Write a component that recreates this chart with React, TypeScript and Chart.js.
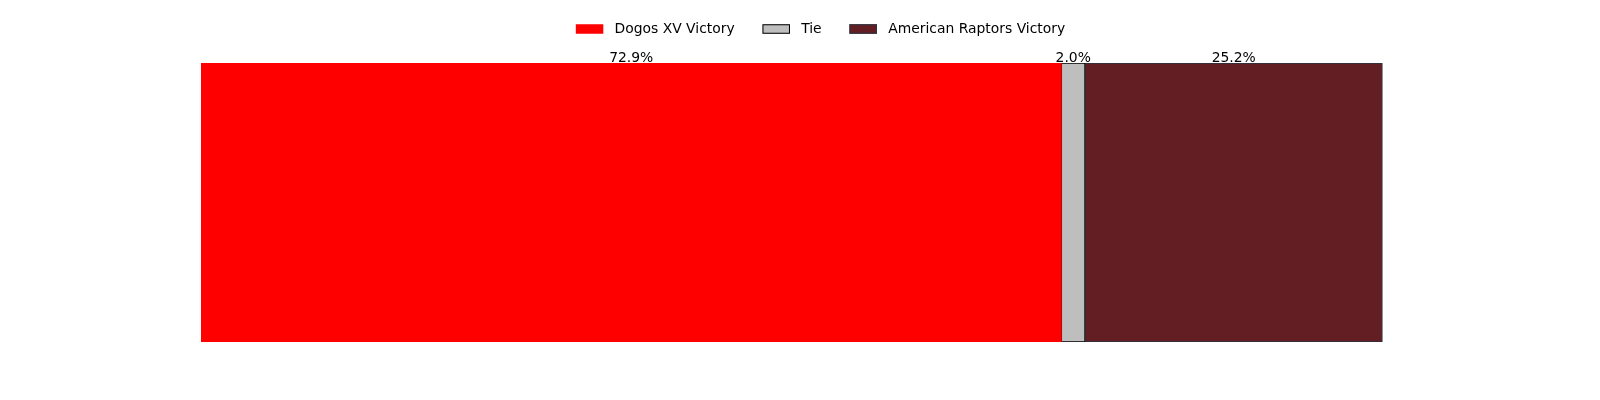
import React, { useEffect, useRef } from "react";
import { Chart, registerables } from "chart.js";

Chart.register(...registerables);

const categories = ["Result"];
const seriesLabels = ["Dogos XV Victory", "Tie", "American Raptors Victory"];
const seriesValues = [72.9, 2.0, 25.2];
const seriesColors = ["#FF0000", "#BEBEBE", "#621E22"];
const seriesBorders = ["#FF0000", "#000000", "#2B3444"];
const seriesBorderWidths = [0, 1, 1];
const valueLabels = ["72.9%", "2.0%", "25.2%"];

const FONT = "13.9px 'DejaVu Sans', sans-serif";

const labelPlugin = {
  id: "segLabels",
  afterDatasetsDraw(chart: any) {
    const ctx = chart.ctx;
    ctx.save();
    ctx.font = FONT;
    ctx.fillStyle = "#000";
    ctx.textAlign = "center";
    ctx.textBaseline = "bottom";
    chart.data.datasets.forEach((ds: any, i: number) => {
      const meta = chart.getDatasetMeta(i);
      const el: any = meta.data[0];
      if (!el) return;
      const cx = (el.x + el.base) / 2;
      const top = el.y - el.height / 2;
      ctx.fillText(valueLabels[i], cx, top + 2.5);
    });
    ctx.restore();
  },
};

const legendPlugin = {
  id: "customLegend",
  afterDraw(chart: any) {
    const ctx = chart.ctx;
    ctx.save();
    ctx.font = FONT;
    const boxW = 27.5;
    const boxH = 9.5;
    const textGap = 11.2;
    const colGap = 27.8;
    const widths = seriesLabels.map((l) => boxW + textGap + ctx.measureText(l).width);
    const total = widths.reduce((a, b) => a + b, 0) + colGap * (widths.length - 1);
    const centerX = 820.5;
    let x = centerX - total / 2;
    const cy = 29;
    seriesLabels.forEach((l, i) => {
      ctx.fillStyle = seriesColors[i];
      ctx.fillRect(x, cy - boxH / 2, boxW, boxH);
      if (seriesBorderWidths[i] > 0) {
        ctx.strokeStyle = seriesBorders[i];
        ctx.lineWidth = 1;
        ctx.strokeRect(x + 0.5, cy - boxH / 2 + 0.5, boxW - 1, boxH - 1);
      }
      ctx.fillStyle = "#000";
      ctx.textAlign = "left";
      ctx.textBaseline = "middle";
      ctx.fillText(l, x + boxW + textGap, cy + 0.5);
      x += widths[i] + colGap;
    });
    ctx.restore();
  },
};

export default function App() {
  const ref = useRef<HTMLCanvasElement | null>(null);
  useEffect(() => {
    document.body.style.margin = "0";
    if (!ref.current) return;
    const total = seriesValues.reduce((a, b) => a + b, 0);
    const chart = new Chart(ref.current, {
      type: "bar",
      data: {
        labels: categories,
        datasets: seriesLabels.map((label, i) => ({
          label,
          data: [seriesValues[i]],
          backgroundColor: seriesColors[i],
          borderColor: seriesBorders[i],
          borderWidth: seriesBorderWidths[i],
          borderSkipped: false,
          barPercentage: 1,
          categoryPercentage: 1,
        })),
      },
      options: {
        indexAxis: "y",
        animation: false,
        responsive: false,
        maintainAspectRatio: false,
        layout: { padding: { left: 201, right: 217, top: 63, bottom: 58 } },
        scales: {
          x: { stacked: true, display: false, min: 0, max: total + 0.05 },
          y: { stacked: true, display: false },
        },
        plugins: {
          legend: { display: false },
          tooltip: { enabled: false },
        },
      },
      plugins: [labelPlugin, legendPlugin],
    });
    return () => chart.destroy();
  }, []);
  return (
    <div style={{ width: 1600, height: 400, background: "#fff" }}>
      <canvas ref={ref} width={1600} height={400} />
    </div>
  );
}
